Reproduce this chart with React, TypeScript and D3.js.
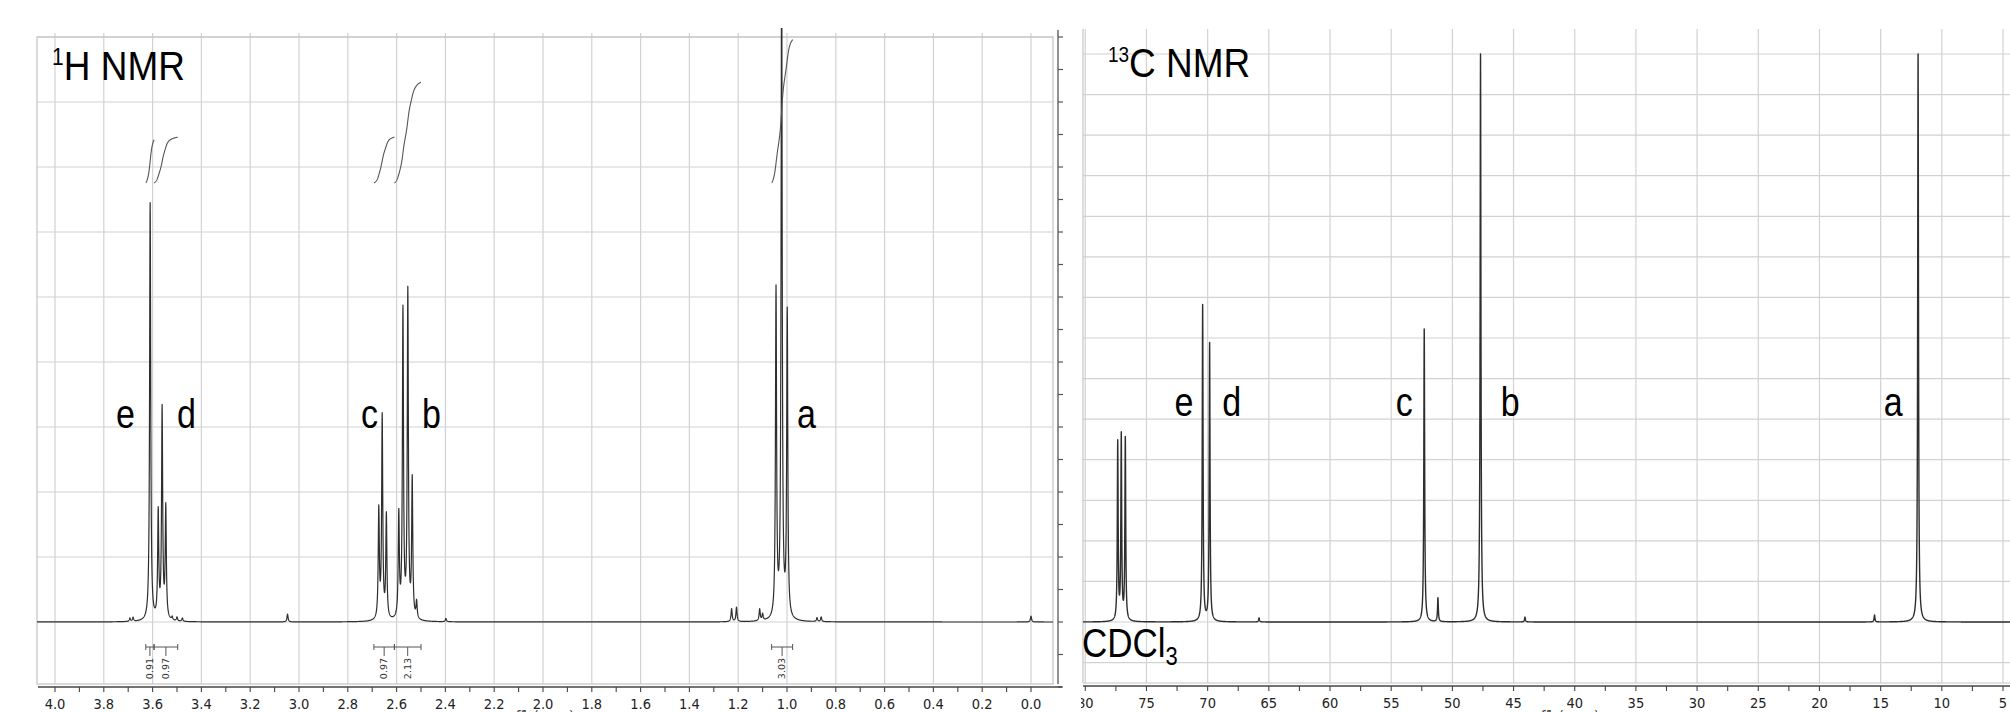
import React, { useEffect, useMemo } from 'react';
import * as d3 from 'd3';

// ---- 1H NMR peak list (ppm, height in grid steps above baseline) ----
const hShifts = [3.693, 3.68, 3.61, 3.577, 3.561, 3.546, 3.52, 3.5, 3.478, 3.047, 2.673, 2.659, 2.642, 2.591, 2.574, 2.554, 2.536, 2.518, 2.398, 1.227, 1.207, 1.112, 1.1, 1.045, 1.022, 0.999, 0.877, 0.86, 0.0];
const hHeights = [0.05, 0.06, 6.43, 1.63, 3.23, 1.71, 0.05, 0.06, 0.05, 0.12, 1.67, 3.11, 1.59, 1.59, 4.73, 5.02, 2.12, 0.26, 0.05, 0.2, 0.22, 0.18, 0.1, 5.03, 10.2, 4.69, 0.06, 0.07, 0.09];

// integrals
const hIntegralValues = [0.91, 0.97, 0.97, 2.13, 3.03];
const hIntegralFrom = [3.628, 3.594, 2.693, 2.609, 1.063];
const hIntegralTo = [3.594, 3.497, 2.609, 2.5, 0.977];

const hTickLabels = ['4.0', '3.8', '3.6', '3.4', '3.2', '3.0', '2.8', '2.6', '2.4', '2.2', '2.0', '1.8', '1.6', '1.4', '1.2', '1.0', '0.8', '0.6', '0.4', '0.2', '0.0'];
const hLabelText = ['e', 'd', 'c', 'b', 'a'];
const hLabelPpm = [3.75, 3.5, 2.746, 2.496, 0.959];

// ---- 13C NMR peak list ----
const cShifts = [77.35, 77.06, 76.73, 70.41, 69.84, 65.8, 52.3, 51.18, 47.7, 44.07, 15.5, 11.94];
const cHeights = [4.39, 4.54, 4.49, 7.79, 6.85, 0.1, 7.22, 0.59, 14.0, 0.12, 0.17, 14.0];

const cTickLabels = ['80', '75', '70', '65', '60', '55', '50', '45', '40', '35', '30', '25', '20', '15', '10', '5'];
const cLabelText = ['e', 'd', 'c', 'b', 'a'];
const cLabelPpm = [72.72, 68.8, 54.63, 46.05, 14.75];

const GRID = '#d2d2d2';
const INK = '#2e2e2e';
const SANS = "'Liberation Sans', Arial, sans-serif";
const COND = "'DejaVu Sans Condensed', 'DejaVu Sans', sans-serif";

function lorentz(p: number, shifts: number[], heights: number[], w: number) {
  let s = 0;
  for (let i = 0; i < shifts.length; i++) {
    const t = (p - shifts[i]) / w;
    s += heights[i] / (1 + t * t);
  }
  return s;
}

export default function App() {
  useEffect(() => {
    document.body.style.margin = '0';
    document.body.style.overflow = 'hidden';
  }, []);

  // scales
  const xH = d3.scaleLinear().domain([4.0, 0.0]).range([55, 1031]);
  const yH = d3.scaleLinear().domain([0, 9]).range([622, 37]);
  const xC = d3.scaleLinear().domain([80, 5]).range([1085.3, 2003]);
  const yC = d3.scaleLinear().domain([0, 14]).range([622, 54]);
  const intY = d3.scaleLinear().domain([0, 1]).range([183, 135.7]);

  const hPath = useMemo(() => {
    const ps = d3.range(4.074, -0.092, -0.0005).concat(hShifts).sort((a, b) => b - a);
    const pts = ps.map(p => [p, lorentz(p, hShifts, hHeights, 0.0027)] as [number, number]);
    return d3.line<[number, number]>().x(d => xH(d[0])).y(d => yH(d[1]))(pts) || '';
  }, []);

  const cPath = useMemo(() => {
    const ps = d3.range(80.2, 3.9, -0.008).concat(cShifts).sort((a, b) => b - a);
    const pts = ps.map(p => [p, lorentz(p, cShifts, cHeights, 0.04)] as [number, number]);
    return d3.line<[number, number]>().x(d => xC(d[0])).y(d => yC(d[1]))(pts) || '';
  }, []);

  const integralPaths = useMemo(() => hIntegralValues.map((v, k) => {
    const from = hIntegralFrom[k];
    const to = hIntegralTo[k];
    const gi = 0.008;
    const idx = hShifts.map((s, i) => i).filter(i => hShifts[i] <= from && hShifts[i] >= to);
    const F = (p: number) => idx.reduce((acc, i) =>
      acc + hHeights[i] * (Math.atan((hShifts[i] - p) / gi) - Math.atan((hShifts[i] - from) / gi)), 0);
    const total = F(to);
    const ps = d3.range(from, to - 0.0005, -0.0008);
    const pts = ps.map(p => [p, v * F(p) / total] as [number, number]);
    return d3.line<[number, number]>().x(d => xH(d[0])).y(d => intY(d[1]))(pts) || '';
  }), []);

  const hMinor = d3.range(0, 41).map(i => 4 - i * 0.1);
  const cMinor = d3.range(0, 31).map(i => 80 - i * 2.5);
  const spineTicks = d3.range(-1, 9.01, 0.5);

  return (
    <svg width={2010} height={712} style={{ position: 'absolute', left: 0, top: 0, display: 'block', background: '#fff' }}>
      <defs>
        <clipPath id="clipH"><rect x={37} y={28} width={1016} height={656} /></clipPath>
        <clipPath id="clipC"><rect x={1083} y={20} width={927} height={664} /></clipPath>
        <clipPath id="clipCAxis"><rect x={1081} y={0} width={929} height={712} /></clipPath>
      </defs>
      <rect x={0} y={0} width={2010} height={712} fill="#fff" />

      {/* ===== 1H panel ===== */}
      <g>
        {hTickLabels.map(t => (
          <line key={'hv' + t} x1={xH(+t)} x2={xH(+t)} y1={33} y2={684} stroke={GRID} strokeWidth={1.2} />
        ))}
        {d3.range(0, 10).map(k => (
          <line key={'hh' + k} x1={37} x2={1053} y1={yH(k)} y2={yH(k)} stroke={GRID} strokeWidth={1.2} />
        ))}
        <rect x={37} y={37} width={1016} height={647} fill="none" stroke="#c4c4c4" strokeWidth={1.2} />

        {/* right spine */}
        <line x1={1058} x2={1058} y1={30} y2={684} stroke="#555" strokeWidth={1.3} />
        {spineTicks.map(v => (
          <line key={'sp' + v} x1={1058} x2={1063} y1={yH(v)} y2={yH(v)} stroke="#555" strokeWidth={1.2} />
        ))}

        {/* x axis */}
        <line x1={38} x2={1062} y1={687} y2={687} stroke="#444" strokeWidth={1.6} />
        {hMinor.map(v => (
          <line key={'ht' + v.toFixed(1)} x1={xH(v)} x2={xH(v)} y1={687} y2={692} stroke="#444" strokeWidth={1.1} />
        ))}
        {hTickLabels.map(t => (
          <text key={'hl' + t} x={xH(+t)} y={709} textAnchor="middle" fontFamily={COND}
            style={{ fontStretch: 'condensed' }} fontSize={14.5} fill="#222">{t}</text>
        ))}
        <text x={545} y={722} textAnchor="middle" fontFamily={COND} fontSize={15} fill="#444">f1 (ppm)</text>

        {/* spectrum */}
        <g clipPath="url(#clipH)">
          <path d={hPath} fill="none" stroke={INK} strokeWidth={1.2} strokeLinejoin="round" />
        </g>

        {/* integral curves */}
        {integralPaths.map((d, k) => (
          <path key={'ic' + k} d={d} fill="none" stroke="#555" strokeWidth={1.1} />
        ))}

        {/* integral brackets */}
        {hIntegralValues.map((v, k) => {
          const a = xH(hIntegralFrom[k]);
          const b = xH(hIntegralTo[k]);
          const m = (a + b) / 2;
          return (
            <g key={'ib' + k} stroke="#555" strokeWidth={1}>
              <line x1={a} x2={b} y1={647} y2={647} />
              <line x1={a} x2={a} y1={644} y2={650} />
              <line x1={b} x2={b} y1={644} y2={650} />
              <line x1={m} x2={m} y1={647} y2={656} />
              <text transform={`translate(${m},658) rotate(-90)`} textAnchor="end" dy="0.35em"
                fontFamily="'DejaVu Sans', Verdana, sans-serif" fontSize={9.5} fill="#333" stroke="none">
                {v.toFixed(2)}
              </text>
            </g>
          );
        })}

        {/* titles and assignments */}
        <text transform="translate(52,80) scale(1,1.12)" fontFamily={SANS} fill="#000">
          <tspan fontSize={21} dy={-13}>1</tspan>
          <tspan fontSize={37} dy={13}>H NMR</tspan>
        </text>
        {hLabelText.map((t, i) => (
          <text key={'hlab' + i} transform={`translate(${xH(hLabelPpm[i])},428) scale(1,1.2)`}
            fontFamily={SANS} fontSize={34} fill="#000">{t}</text>
        ))}
      </g>

      {/* ===== 13C panel ===== */}
      <g clipPath="url(#clipCAxis)">
        {cTickLabels.map(t => (
          <line key={'cv' + t} x1={xC(+t)} x2={xC(+t)} y1={29} y2={683} stroke={GRID} strokeWidth={1.2} />
        ))}
        {d3.range(-1, 15).map(k => (
          <line key={'ch' + k} x1={1083} x2={2010} y1={yC(k)} y2={yC(k)} stroke={GRID} strokeWidth={1.2} />
        ))}
        <line x1={1083} x2={1083} y1={29} y2={683} stroke="#c4c4c4" strokeWidth={1.2} />
        <line x1={1083} x2={2010} y1={683} y2={683} stroke="#c4c4c4" strokeWidth={1.2} />

        <line x1={1083} x2={2010} y1={686} y2={686} stroke="#444" strokeWidth={1.6} />
        {cMinor.map(v => (
          <line key={'ct' + v} x1={xC(v)} x2={xC(v)} y1={686} y2={691} stroke="#444" strokeWidth={1.1} />
        ))}
        {cTickLabels.map(t => (
          <text key={'cl' + t} x={xC(+t)} y={708} textAnchor="middle" fontFamily={COND}
            style={{ fontStretch: 'condensed' }} fontSize={14.5} fill="#222">{t}</text>
        ))}
        <text x={1570} y={722} textAnchor="middle" fontFamily={COND} fontSize={15} fill="#444">f1 (ppm)</text>

        <g clipPath="url(#clipC)">
          <path d={cPath} fill="none" stroke={INK} strokeWidth={1.4} strokeLinejoin="round" />
        </g>

        <text transform="translate(1108,77) scale(1,1.12)" fontFamily={SANS} fill="#000">
          <tspan fontSize={19} dy={-13}>13</tspan>
          <tspan fontSize={37} dy={13}>C NMR</tspan>
        </text>
        {cLabelText.map((t, i) => (
          <text key={'clab' + i} transform={`translate(${xC(cLabelPpm[i])},416) scale(1,1.2)`}
            fontFamily={SANS} fontSize={34} fill="#000">{t}</text>
        ))}
        <text transform="translate(1082,657) scale(1,1.15)" fontFamily={SANS} fill="#000">
          <tspan fontSize={35}>CDCl</tspan>
          <tspan fontSize={22} dy={7}>3</tspan>
        </text>
      </g>
    </svg>
  );
}
